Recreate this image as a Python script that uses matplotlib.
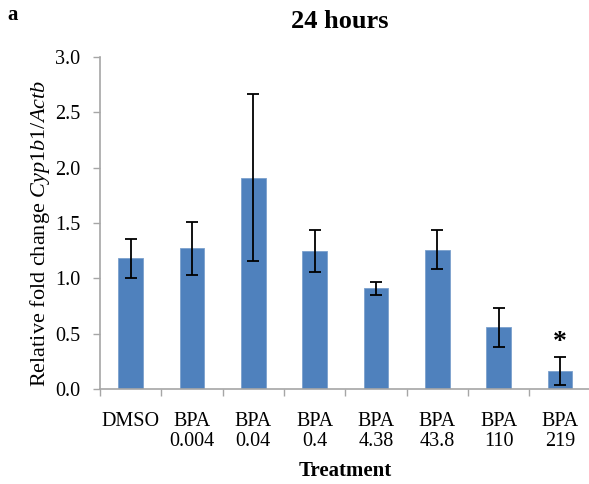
import matplotlib.pyplot as plt
import numpy as np

plt.rcParams['font.family'] = ['Liberation Serif', 'DejaVu Serif']
plt.rcParams['mathtext.fontset'] = 'custom'
plt.rcParams['mathtext.rm'] = 'Liberation Serif'
plt.rcParams['mathtext.it'] = 'Liberation Serif:italic'

categories = ["DMSO", "BPA\n0.004", "BPA\n0.04", "BPA\n0.4", "BPA\n4.38",
              "BPA\n43.8", "BPA\n110", "BPA\n219"]
values = [1.18, 1.27, 1.91, 1.25, 0.91, 1.26, 0.56, 0.165]
errors = [0.18, 0.24, 0.75, 0.19, 0.06, 0.175, 0.176, 0.13]
significant = [False, False, False, False, False, False, False, True]

fig = plt.figure(figsize=(5.89, 4.84), dpi=100)
ax = fig.add_axes([0.1698, 0.1957, 0.833, 0.6872])

x = np.arange(len(categories))
ax.bar(x, values, width=0.4, color="#4F81BD", edgecolor="#7BA0CD", linewidth=0.6, zorder=2)
ax.errorbar(x, values, yerr=errors, fmt="none", ecolor="black",
            elinewidth=1.3, capsize=4, capthick=1.3, zorder=3)

for i, sig in enumerate(significant):
    if sig:
        ax.text(x[i], values[i] + errors[i] + 0.13, "*", ha="center", va="center",
                fontsize=20, fontweight="bold")

ax.set_xlim(-0.5, len(categories) - 0.5)
ax.set_ylim(0, 3.0)
ax.set_yticks(np.arange(0, 3.01, 0.5))
ax.set_yticklabels([f"{v:.1f}" for v in np.arange(0, 3.01, 0.5)])

ax.set_xticks(np.arange(-0.5, len(categories), 1.0))
ax.set_xticklabels([])
ax.set_xticks(x, minor=True)
ax.set_xticklabels(categories, minor=True, linespacing=1.12)
ax.tick_params(axis="x", which="minor", length=0, pad=16, labelsize=14.5)
ax.tick_params(axis="x", which="major", length=5, color="#A6A6A6", width=1)
ax.tick_params(axis="y", length=5, color="#A6A6A6", width=1, labelsize=14.5, pad=9)

for s in ["top", "right"]:
    ax.spines[s].set_visible(False)
for s in ["left", "bottom"]:
    ax.spines[s].set_color("#A6A6A6")
    ax.spines[s].set_linewidth(1.2)

ax.set_ylabel("Relative fold change $\\mathit{Cyp1b1/Actb}$", fontsize=16)
ax.yaxis.set_label_coords(-0.097, 0.47)
ax.set_xlabel("Treatment", fontsize=15, fontweight="bold", labelpad=7)

fig.text(0.576, 0.955, "24 hours", ha="center", va="center", fontsize=19, fontweight="bold")
fig.text(0.013, 0.968, "a", ha="left", va="center", fontsize=15, fontweight="bold")

fig.savefig("out.png", dpi=100)
